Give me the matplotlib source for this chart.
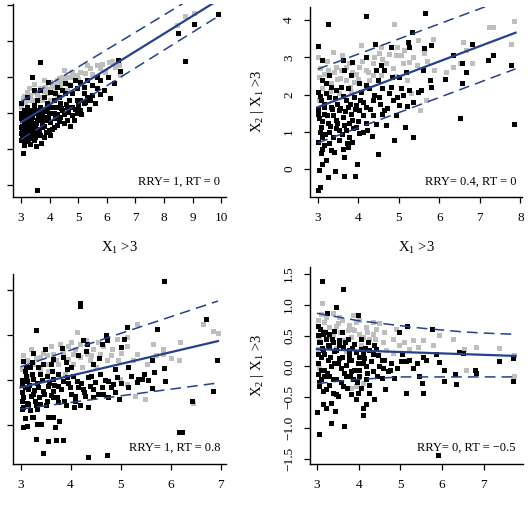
import matplotlib
matplotlib.use("Agg")
import matplotlib.pyplot as plt

plt.rcParams['font.family'] = ['Liberation Serif', 'DejaVu Serif']
plt.rcParams['mathtext.fontset'] = 'custom'
plt.rcParams['mathtext.rm'] = 'Liberation Serif'
plt.rcParams['mathtext.it'] = 'Liberation Serif:italic'

BLUE = '#27408B'
GRAY = '#BEBEBE'

# ---------------- Panel 1 (top-left) ----------------
p1_black_x = [3.56,3.07,3.65,3.38,3.93,3.44,6.41,6.47,6.03,6.24,6.10,5.37,8.49,8.72,9.04,9.88,5.75,5.77,5.66,5.48,
              5.19,5.07,4.96,4.78,4.67,5.07,5.31,4.96,4.78,4.61,4.84,4.14,4.03,3.91,3.73,3.70,3.54,3.30,3.09,3.21,
              3.44,3.62,3.79,3.00,3.00,3.03,3.00,3.00,3.15,3.27,3.33,3.15,3.38,3.50,3.68,3.91,4.14,4.32,4.43,4.55,
              4.26,4.43,4.14,3.97,4.38,3.79,3.56,3.33,3.21,3.56,3.79,4.03,4.26,4.55,4.72,4.90,4.61,4.78,5.19,5.42,
              5.60,4.49,4.26,3.97,3.44,3.27,3.09,3.09,3.44,3.73,4.09,3.91,3.68,3.50,3.21,3.00,3.15,3.33,5.07,5.31,
              4.38,5.19,4.96,4.20,3.68,5.66,3.05,3.12,3.25,3.40,3.60,3.85,4.00,3.20,3.00,3.10]
p1_black_y = [-0.28,1.80,6.81,5.98,5.74,5.28,6.94,6.33,5.98,5.69,4.85,4.24,8.46,6.87,8.94,9.50,5.06,5.83,5.37,5.56,
              5.09,4.72,5.37,5.09,4.72,5.74,5.83,3.98,3.89,3.61,3.61,3.24,2.78,3.61,3.24,2.35,2.19,2.28,2.41,2.69,
              2.87,2.96,2.69,2.87,3.24,3.61,3.98,4.54,3.80,3.43,3.06,3.06,3.80,4.17,4.35,4.54,4.72,4.91,5.28,5.09,
              4.35,4.17,3.98,3.98,3.80,3.80,3.61,4.17,4.35,4.72,4.91,5.19,5.46,5.65,5.56,5.83,4.35,4.35,4.54,4.72,
              4.54,3.43,3.33,3.06,2.50,2.87,3.43,4.17,4.44,3.89,4.35,4.26,3.61,3.24,3.89,2.50,2.69,2.59,4.17,4.91,
              4.54,5.46,4.72,5.09,5.28,6.02,3.10,2.20,3.60,3.40,3.90,4.10,3.50,4.90,3.70,3.95]
p1_black2_x = [3.02,3.05,3.08,3.10,3.13,3.17,3.20,3.23,3.28,3.30,3.35,3.36,3.42,3.46,3.50,3.52,3.58,3.63,3.66,3.72,
               3.77,3.82,3.88,3.95,4.05,4.10,4.18,4.25,4.33,4.40,4.50,4.57,4.65,4.70,4.88,5.00,5.10,5.25,5.50,5.90]
p1_black2_y = [2.65,3.30,3.75,2.90,3.55,4.10,3.20,2.45,3.95,3.25,2.75,3.60,3.05,4.00,2.65,3.45,3.10,4.05,2.80,3.50,
               4.15,3.30,2.95,3.75,4.00,3.10,3.70,3.95,3.55,4.30,3.95,4.50,4.05,3.30,4.20,4.45,3.95,4.60,5.00,5.30]
p1_gray_x = [8.75,9.04,8.45,6.44,6.07,5.66,5.42,5.07,4.78,4.61,4.43,4.32,4.20,4.03,3.85,3.68,3.50,3.33,3.21,3.07,
             3.38,3.62,3.91,4.14,4.38,4.49,4.72,4.96,5.25,5.31,5.77,5.94,6.29,6.47,3.00,3.15,3.44,3.73,4.03,4.26,
             4.61,3.27,3.79,4.26,3.10,3.30,3.55,3.80,4.10,4.35,4.55,4.85,5.00,5.50,5.85,6.20,3.45,3.95,4.65]
p1_gray_y = [9.39,9.57,8.89,6.67,6.85,6.67,6.48,6.30,6.30,6.02,6.02,5.93,5.56,5.74,5.46,5.37,5.19,5.00,5.19,4.81,
             4.72,4.91,5.09,5.37,5.56,6.39,6.02,6.11,6.20,6.67,6.48,6.30,6.57,6.11,4.35,4.63,4.54,4.72,4.72,5.00,
             5.28,5.37,5.83,5.83,4.95,4.75,5.05,5.25,5.50,5.75,5.85,6.10,5.90,6.15,6.70,6.90,5.60,5.35,5.60]
p1_fit_x = [3.0, 9.9]
p1_fit_y = [3.48, 10.28]
p1_up_y = [4.63, 11.28]
p1_lo_y = [2.54, 9.38]

# ---------------- Panel 2 (top-right) ----------------
p2_black_x = [3.00,3.12,3.25,4.19,5.65,5.33,4.42,4.81,5.22,5.26,5.62,5.79,6.81,7.20,7.32,6.56,6.66,6.35,6.56,6.13,
              6.51,7.77,7.84,5.80,5.59,5.76,5.55,5.47,5.35,5.35,5.16,4.89,4.50,4.34,4.11,3.98,3.93,3.65,3.44,3.04,
              3.00,3.06,3.11,3.21,3.25,3.08,3.33,3.62,3.74,3.64,3.86,3.00,3.16,3.37,3.45,3.70,3.95,4.19,4.36,4.60,
              4.69,4.93,5.01,4.85,4.77,4.52,4.36,4.19,4.03,3.82,3.62,3.45,3.25,3.08,3.04,3.16,3.33,3.49,3.70,3.90,
              4.07,4.27,4.48,4.56,4.64,4.44,4.19,4.03,3.82,3.66,3.62,3.85,4.19,3.29,3.21,3.12,3.02,3.08,3.29,3.45,
              3.58,3.74,3.16,3.00,3.37,3.53,3.74,3.95,4.11,3.86,3.66,3.29,3.12,3.53,5.06,5.01,5.18,4.97,4.60,5.26,
              4.83,4.64,3.78,4.03]
p2_black_y = [3.30,2.94,3.89,4.11,4.18,3.69,3.37,3.28,3.42,3.28,3.26,3.33,3.35,2.93,3.06,2.85,2.61,3.06,2.30,2.41,
              1.36,2.79,1.21,2.21,2.66,2.39,2.12,2.08,1.81,0.87,1.14,0.78,0.40,0.89,1.00,0.13,-0.19,-0.18,-0.04,-0.03,
              -0.55,-0.47,0.15,0.24,-0.21,0.42,0.51,0.55,0.60,0.33,0.73,0.73,0.64,0.87,1.09,1.05,1.14,1.23,1.45,1.49,
              1.18,1.45,1.72,1.85,2.03,1.94,1.85,1.67,1.58,1.49,1.40,1.32,1.23,1.14,1.36,1.49,1.67,1.76,1.85,1.94,
              2.08,2.17,2.39,2.79,2.66,2.66,2.25,2.30,2.52,2.66,2.93,2.88,3.02,2.52,2.30,2.39,2.08,1.85,1.94,2.12,
              2.21,2.17,1.67,1.49,1.45,1.58,1.67,1.72,1.81,1.32,1.18,1.00,0.87,0.78,2.17,2.48,2.61,1.94,2.17,2.12,
              2.46,1.58,0.87,0.96]
p2_black2_x = [3.02,3.05,3.07,3.10,3.12,3.15,3.18,3.20,3.23,3.27,3.30,3.33,3.36,3.40,3.42,3.48,3.52,3.55,3.60,3.63,
               3.68,3.72,3.77,3.80,3.88,3.92,4.00,4.05,4.12,4.22,4.30,4.40,4.45,4.55,4.70,4.80,5.10,5.20]
p2_black2_y = [1.60,1.00,1.95,0.55,1.30,1.75,0.95,2.05,1.45,0.70,1.15,2.20,1.60,0.45,1.90,1.25,1.05,1.65,0.95,1.95,
               1.55,0.70,1.25,1.75,1.10,1.60,1.30,1.85,1.45,1.05,1.60,2.00,1.20,1.75,1.65,2.20,2.00,1.70]
p2_gray_x = [3.00,3.37,4.89,4.07,4.52,4.56,4.97,4.93,5.14,5.47,5.84,5.63,5.35,6.33,6.50,6.58,6.66,6.81,7.22,7.32,
             7.85,7.77,6.17,5.53,5.67,4.19,4.36,3.86,3.70,3.49,3.33,3.12,3.04,3.25,3.45,3.78,4.03,4.69,4.85,5.10,
             5.26,4.00,4.36,3.53,3.82,3.04,3.90,5.30,5.88,4.27,3.58,4.56,3.05,3.15,3.22,3.40,3.55,3.70,3.80,3.95,
             4.10,4.25,4.40,4.60,4.75,4.90,5.05,5.20,5.45,5.70,3.30,3.60]
p2_gray_y = [3.02,3.15,3.89,3.33,3.12,3.28,3.28,3.06,3.19,3.46,3.48,3.11,3.02,2.75,2.84,3.42,3.19,2.84,3.82,3.82,
             3.98,3.37,2.61,1.58,1.85,2.66,2.84,2.61,2.39,2.43,2.30,2.17,2.48,2.66,2.75,2.84,2.75,2.84,2.70,2.84,
             2.88,2.43,2.52,2.03,2.08,1.85,2.35,2.03,2.66,2.39,2.66,2.52,2.70,2.55,2.90,2.60,2.45,2.75,2.20,2.55,
             2.90,2.60,3.00,2.95,3.10,2.50,3.05,2.40,2.80,2.90,2.10,3.05]
p2_fit_x = [3.0, 7.88]
p2_fit_y = [1.66, 3.66]
p2_up_y = [2.68, 4.66]
p2_lo_y = [0.70, 2.69]

# ---------------- Panel 3 (bottom-left) ----------------
p3_black_x = [5.87,4.19,4.19,3.31,6.70,6.93,6.84,6.42,6.17,6.22,4.35,4.72,3.45,3.31,3.54,3.71,3.84,3.05,3.12,3.32,
              3.41,3.54,3.65,3.77,3.69,3.24,3.09,5.72,5.13,5.07,5.02,4.25,4.33,4.30,4.71,4.72,4.62,4.57,3.82,3.49,
              3.25,3.22,3.04,3.45,3.65,3.92,4.02,4.89,5.15,5.62,5.67,5.87,5.89,5.62,5.35,5.32,5.15,4.97,4.89,4.75,
              4.62,4.49,4.35,4.39,4.25,4.35,4.19,4.07,3.91,4.09,3.99,3.85,3.75,3.65,3.55,3.45,3.35,3.25,3.15,3.02,
              3.02,3.12,3.25,3.39,3.52,3.65,3.75,3.02,3.15,3.29,3.39,3.52,3.65,3.75,3.02,3.19,3.32,3.09,3.19,3.92,
              4.12,4.15,4.59,4.75,4.85,4.92,4.65,4.45,4.29,5.42,5.47,3.85,4.15,3.62,3.05,3.22]
p3_black_y = [4.21,3.71,3.66,3.12,3.36,2.44,1.76,1.55,0.84,0.86,0.30,0.33,0.38,0.70,0.64,0.67,0.68,0.96,0.99,1.03,
              1.03,1.19,1.18,1.10,0.97,1.18,1.16,3.14,3.18,2.92,2.73,2.90,2.81,2.66,3.00,2.90,2.81,2.50,2.72,2.70,
              2.60,2.40,2.42,2.36,2.47,2.25,2.29,2.25,2.29,2.45,2.18,2.27,1.99,1.83,2.03,1.96,1.84,1.59,1.73,1.62,
              1.84,1.96,2.07,1.88,1.81,1.40,1.44,1.40,1.44,1.66,1.84,1.99,1.88,1.77,1.88,1.77,1.84,1.70,1.81,1.73,
              1.92,1.99,2.03,2.14,2.10,2.03,2.14,1.55,1.47,1.55,1.47,1.55,1.62,1.51,1.36,1.33,1.36,2.21,2.29,2.07,
              1.99,1.84,2.14,1.99,1.92,2.07,1.70,1.62,1.66,2.03,2.14,2.51,2.55,2.21,1.40,1.18]
p3_black2_x = [3.02,3.05,3.08,3.10,3.13,3.17,3.20,3.22,3.27,3.30,3.33,3.37,3.42,3.47,3.50,3.57,3.60,3.67,3.72,3.80,
               3.87,3.95,4.00,4.05,4.10,4.20,4.27,4.40,4.45,4.55,4.68,4.80,5.00,5.20,5.55,3.10,3.35,3.60,3.90,4.45]
p3_black2_y = [2.00,1.62,1.85,2.10,1.50,1.90,1.65,2.15,1.78,1.45,1.95,1.62,2.00,1.70,1.45,1.95,1.68,1.90,1.62,1.80,
               1.55,1.95,1.70,2.10,1.55,1.95,1.75,2.10,1.80,1.70,2.00,1.85,1.95,2.10,2.00,2.30,2.30,2.35,2.40,2.35]
p3_gray_x = [4.13,5.32,6.19,5.85,5.65,6.65,6.85,6.95,6.17,6.44,5.49,5.29,5.12,4.92,4.82,4.59,4.45,4.32,4.19,4.05,
             3.95,3.79,3.65,3.52,3.39,3.25,3.12,3.02,3.39,3.52,3.75,4.05,4.22,4.39,4.52,4.72,4.95,5.12,5.32,5.52,
             5.85,4.19,3.95,4.65,3.15,3.89,5.12,4.99,3.05,3.20,3.30,3.45,3.60,3.70,3.85,4.00,4.10,4.30,4.55,4.80,
             5.00,5.25,5.70,6.00,3.55,4.40]
p3_gray_y = [3.07,3.26,2.84,2.70,2.81,3.25,3.09,3.04,2.45,1.50,1.59,1.66,2.96,2.92,2.70,2.59,2.70,2.59,2.51,2.59,
             2.47,2.81,2.59,2.55,2.51,2.36,2.44,2.25,2.25,2.36,2.36,2.36,2.29,2.44,2.29,2.44,2.44,2.77,2.59,2.36,
             2.59,2.81,2.77,2.77,2.10,2.14,1.92,2.03,2.55,2.70,2.50,2.60,2.75,2.45,2.60,2.85,2.70,2.90,2.85,2.55,
             2.60,2.45,2.55,2.50,2.20,2.55]
p3_fit_x = [3.0, 6.95]
p3_fit_y = [1.84, 2.87]
p3_up_y = [2.30, 3.76]
p3_lo_y = [1.36, 1.94]

# ---------------- Panel 4 (bottom-right) ----------------
p4_black_x = [3.12,3.62,3.46,3.24,3.99,3.02,3.07,3.28,3.42,3.60,3.74,4.06,4.26,4.42,4.98,5.17,5.76,5.86,5.93,7.38,
              7.70,7.71,6.06,6.04,6.32,6.35,6.80,6.82,6.50,6.41,5.63,5.54,5.46,5.52,5.54,5.14,5.22,5.30,4.92,5.02,
              5.14,4.84,4.63,4.55,4.38,4.26,4.10,4.10,4.18,3.94,3.98,3.82,3.64,3.34,3.06,2.99,3.14,3.22,3.34,3.44,
              3.38,3.50,3.62,3.22,3.06,3.10,3.02,3.18,3.30,3.46,3.70,3.86,4.02,4.18,4.34,4.50,4.62,4.58,4.30,4.14,
              3.98,3.82,3.70,3.54,3.42,3.26,3.10,3.02,3.14,3.30,3.46,3.62,3.78,3.94,4.10,3.06,3.22,3.38,3.54,3.02,
              3.14,3.78,3.58,3.34,3.18,3.82,4.02,4.18,4.70,4.78,5.90,4.46,4.38,4.22,3.90,4.06]
p4_black_y = [1.39,1.26,0.96,0.87,0.83,0.65,0.61,0.53,0.58,0.55,0.44,0.44,0.27,0.29,0.55,0.66,0.61,0.20,0.07,0.08,
              0.14,-0.24,-0.05,-0.24,-0.13,-0.29,-0.05,-0.11,0.22,0.24,0.11,0.16,-0.16,-0.27,-0.43,-0.43,0.11,-0.03,-0.03,0.08,
              0.08,-0.19,-0.37,-0.19,-0.52,-0.43,-0.67,-0.79,-0.61,-0.53,-0.43,-0.45,-0.96,-0.91,-1.10,-0.74,-0.61,-0.67,-0.59,-0.72,
              -0.43,-0.48,-0.32,-0.37,-0.32,-0.21,-0.13,-0.05,-0.16,-0.21,-0.16,-0.21,-0.16,-0.21,-0.08,0.00,0.11,-0.03,0.08,0.13,
              0.05,0.11,0.03,0.13,0.05,0.11,0.16,0.05,0.27,0.32,0.27,0.32,0.27,0.24,0.21,0.40,0.45,0.40,0.43,0.51,
              0.53,0.19,-0.03,0.00,-0.16,-0.08,-0.05,0.00,-0.08,0.05,-1.44,0.19,0.35,0.40,0.37,0.29]
p4_black2_x = [3.02,3.04,3.07,3.10,3.12,3.15,3.18,3.20,3.23,3.26,3.28,3.32,3.36,3.38,3.42,3.46,3.50,3.53,3.57,3.60,
               3.65,3.68,3.72,3.76,3.80,3.85,3.90,3.95,4.00,4.05,4.10,4.15,4.20,4.25,4.35,4.45,4.55,4.75,5.05,5.40]
p4_black2_y = [0.20,-0.25,0.40,-0.05,0.30,-0.40,0.20,0.55,-0.10,0.35,-0.30,0.15,0.45,-0.20,0.25,-0.45,0.05,0.35,-0.25,0.15,
               -0.10,0.40,-0.35,0.10,-0.15,0.30,-0.05,-0.25,0.15,-0.35,0.05,0.30,-0.10,-0.30,0.20,-0.15,0.10,-0.05,0.20,0.05]
p4_gray_x = [3.12,3.38,3.86,3.94,3.78,3.50,3.30,3.18,3.06,3.02,3.06,4.02,3.82,3.62,3.38,3.90,3.74,4.10,4.26,4.34,
             4.18,4.34,4.58,4.82,4.98,5.22,5.42,5.30,5.54,5.78,5.94,6.26,6.54,6.82,7.38,7.74,7.74,6.57,4.66,4.82,
             3.94,4.10,3.82,3.22,3.54,4.50,3.46,3.70,4.42,3.14,3.02,3.10,3.25,3.45,3.60,3.85,4.00,4.20,4.40,4.60,
             4.90,5.10,3.30,3.55,4.05]
p4_gray_y = [1.02,0.86,0.83,0.72,0.67,0.70,0.64,0.72,0.48,0.29,-0.03,0.53,0.48,0.43,0.53,0.59,0.59,0.48,0.45,0.53,
             0.64,0.72,0.40,0.45,0.35,0.29,0.32,0.43,0.43,0.35,0.51,0.45,0.29,0.32,0.30,0.19,-0.15,-0.05,0.27,0.21,
             -0.32,-0.27,-0.35,0.80,0.80,0.70,0.30,0.25,0.60,0.58,0.75,0.85,0.50,0.65,0.75,0.60,0.75,0.55,0.45,0.55,
             0.60,0.40,0.35,0.55,0.35]
p4_fit_x = [3.0, 7.77]
p4_fit_y = [0.28, 0.17]
p4_band_x = [3.0, 3.5, 4.0, 4.5, 5.0, 5.5, 6.0, 6.5, 7.0, 7.77]
p4_up_y = [0.86, 0.80, 0.74, 0.70, 0.66, 0.62, 0.59, 0.56, 0.54, 0.52]
p4_lo_y = [-0.28, -0.24, -0.21, -0.19, -0.17, -0.17, -0.17, -0.17, -0.17, -0.17]

# ---------------- tick / label texts ----------------
p1_xticks = [3, 4, 5, 6, 7, 8, 9, 10]
p1_yticks = [0, 2, 4, 6, 8, 10]
p2_xticks = [3, 4, 5, 6, 7, 8]
p2_yticks = [0, 1, 2, 3, 4]
p3_xticks = [3, 4, 5, 6, 7]
p3_yticks = [1, 2, 3, 4]
p4_xticks = [3, 4, 5, 6, 7]
p4_yticks = [-1.5, -1.0, -0.5, 0.0, 0.5, 1.0, 1.5]
p4_yticklabels = ['\u22121.5', '\u22121.0', '\u22120.5', '0.0', '0.5', '1.0', '1.5']
xlab = 'X$_1$ >3'
ylab = 'X$_2$ | X$_1$ >3'
notes = ['RRY= 1, RT = 0', 'RRY= 0.4, RT = 0', 'RRY= 1, RT = 0.8', 'RRY= 0, RT = \u22120.5']

W, H = 532, 508
fig = plt.figure(figsize=(W / 100, H / 100), dpi=100)


def make_ax(l, r, b, t):
    return fig.add_axes([l / W, (H - b) / H, (r - l) / W, (b - t) / H])


def style(ax, xlim, ylim, xt, yt, show_y):
    ax.set_xlim(*xlim)
    ax.set_ylim(*ylim)
    for s in ('top', 'right'):
        ax.spines[s].set_visible(False)
    for s in ('left', 'bottom'):
        ax.spines[s].set_linewidth(1.0)
    ax.set_xticks(xt)
    ax.set_yticks(yt)
    ax.tick_params(direction='out', length=4, width=0.9, labelsize=9.5, pad=7)
    ax.tick_params(axis='y', labelrotation=90, labelleft=show_y)
    for lab in ax.get_yticklabels():
        lab.set_va('center')


def draw(ax, bx, by, bx2, by2, gx, gy):
    ax.plot(gx, gy, 's', color=GRAY, markersize=3.6, markeredgewidth=0, clip_on=False)
    ax.plot(bx + bx2, by + by2, 's', color='black', markersize=3.6, markeredgewidth=0, clip_on=False)


DASH = (7, 4)
DLW = 1.1

# Panel 1
ax1 = make_ax(13, 226, 197, 4)
draw(ax1, p1_black_x, p1_black_y, p1_black2_x, p1_black2_y, p1_gray_x, p1_gray_y)
ax1.plot(p1_fit_x, p1_fit_y, color=BLUE, lw=1.6)
ax1.plot(p1_fit_x, p1_up_y, color=BLUE, lw=DLW, dashes=DASH)
ax1.plot(p1_fit_x, p1_lo_y, color=BLUE, lw=DLW, dashes=DASH)
style(ax1, (2.72, 10.17), (-0.67, 10.06), p1_xticks, p1_yticks, False)

# Panel 2
ax2 = make_ax(310.3, 522, 196.7, 7)
draw(ax2, p2_black_x, p2_black_y, p2_black2_x, p2_black2_y, p2_gray_x, p2_gray_y)
ax2.plot(p2_fit_x, p2_fit_y, color=BLUE, lw=1.6)
ax2.plot(p2_fit_x, p2_up_y, color=BLUE, lw=DLW, dashes=DASH)
ax2.plot(p2_fit_x, p2_lo_y, color=BLUE, lw=DLW, dashes=DASH)
style(ax2, (2.82, 8.04), (-0.74, 4.35), p2_xticks, p2_yticks, True)

# Panel 3
ax3 = make_ax(13, 226, 464, 274)
draw(ax3, p3_black_x, p3_black_y, p3_black2_x, p3_black2_y, p3_gray_x, p3_gray_y)
ax3.plot(p3_fit_x, p3_fit_y, color=BLUE, lw=1.6)
ax3.plot(p3_fit_x, p3_up_y, color=BLUE, lw=DLW, dashes=DASH)
ax3.plot(p3_fit_x, p3_lo_y, color=BLUE, lw=DLW, dashes=DASH)
style(ax3, (2.85, 7.11), (0.14, 4.36), p3_xticks, p3_yticks, False)

# Panel 4
ax4 = make_ax(310.3, 522.7, 464, 267)
draw(ax4, p4_black_x, p4_black_y, p4_black2_x, p4_black2_y, p4_gray_x, p4_gray_y)
ax4.plot(p4_fit_x, p4_fit_y, color=BLUE, lw=1.6)
ax4.plot(p4_band_x, p4_up_y, color=BLUE, lw=DLW, dashes=DASH)
ax4.plot(p4_band_x, p4_lo_y, color=BLUE, lw=DLW, dashes=DASH)
style(ax4, (2.84, 7.94), (-1.58, 1.61), p4_xticks, p4_yticks, True)
ax4.set_yticklabels(p4_yticklabels)
for lab in ax4.get_yticklabels():
    lab.set_va('center')

# axis titles
ax1.set_xlabel(xlab, fontsize=10.5)
ax1.xaxis.set_label_coords(0.5, -(248 - 197) / 193)
ax1.xaxis.label.set_va('center')
ax2.set_xlabel(xlab, fontsize=10.5)
ax2.xaxis.set_label_coords(0.5, -(248 - 196.7) / 189.7)
ax2.xaxis.label.set_va('center')
ax2.set_ylabel(ylab, fontsize=10.5)
ax2.yaxis.set_label_coords((257 - 310.3) / 211.7, 0.5)
ax2.yaxis.label.set_va('center')
ax4.set_ylabel(ylab, fontsize=10.5)
ax4.yaxis.set_label_coords((257 - 310.3) / 212.4, 0.5)
ax4.yaxis.label.set_va('center')

# annotations
for ax, txt, (fx, fy) in zip([ax1, ax2, ax3, ax4], notes,
                             [(0.972, 0.079), (0.972, 0.079), (0.972, 0.084), (0.968, 0.081)]):
    ax.text(fx, fy, txt, transform=ax.transAxes, ha='right', va='center', fontsize=9)

fig.savefig('out.png', dpi=100)
